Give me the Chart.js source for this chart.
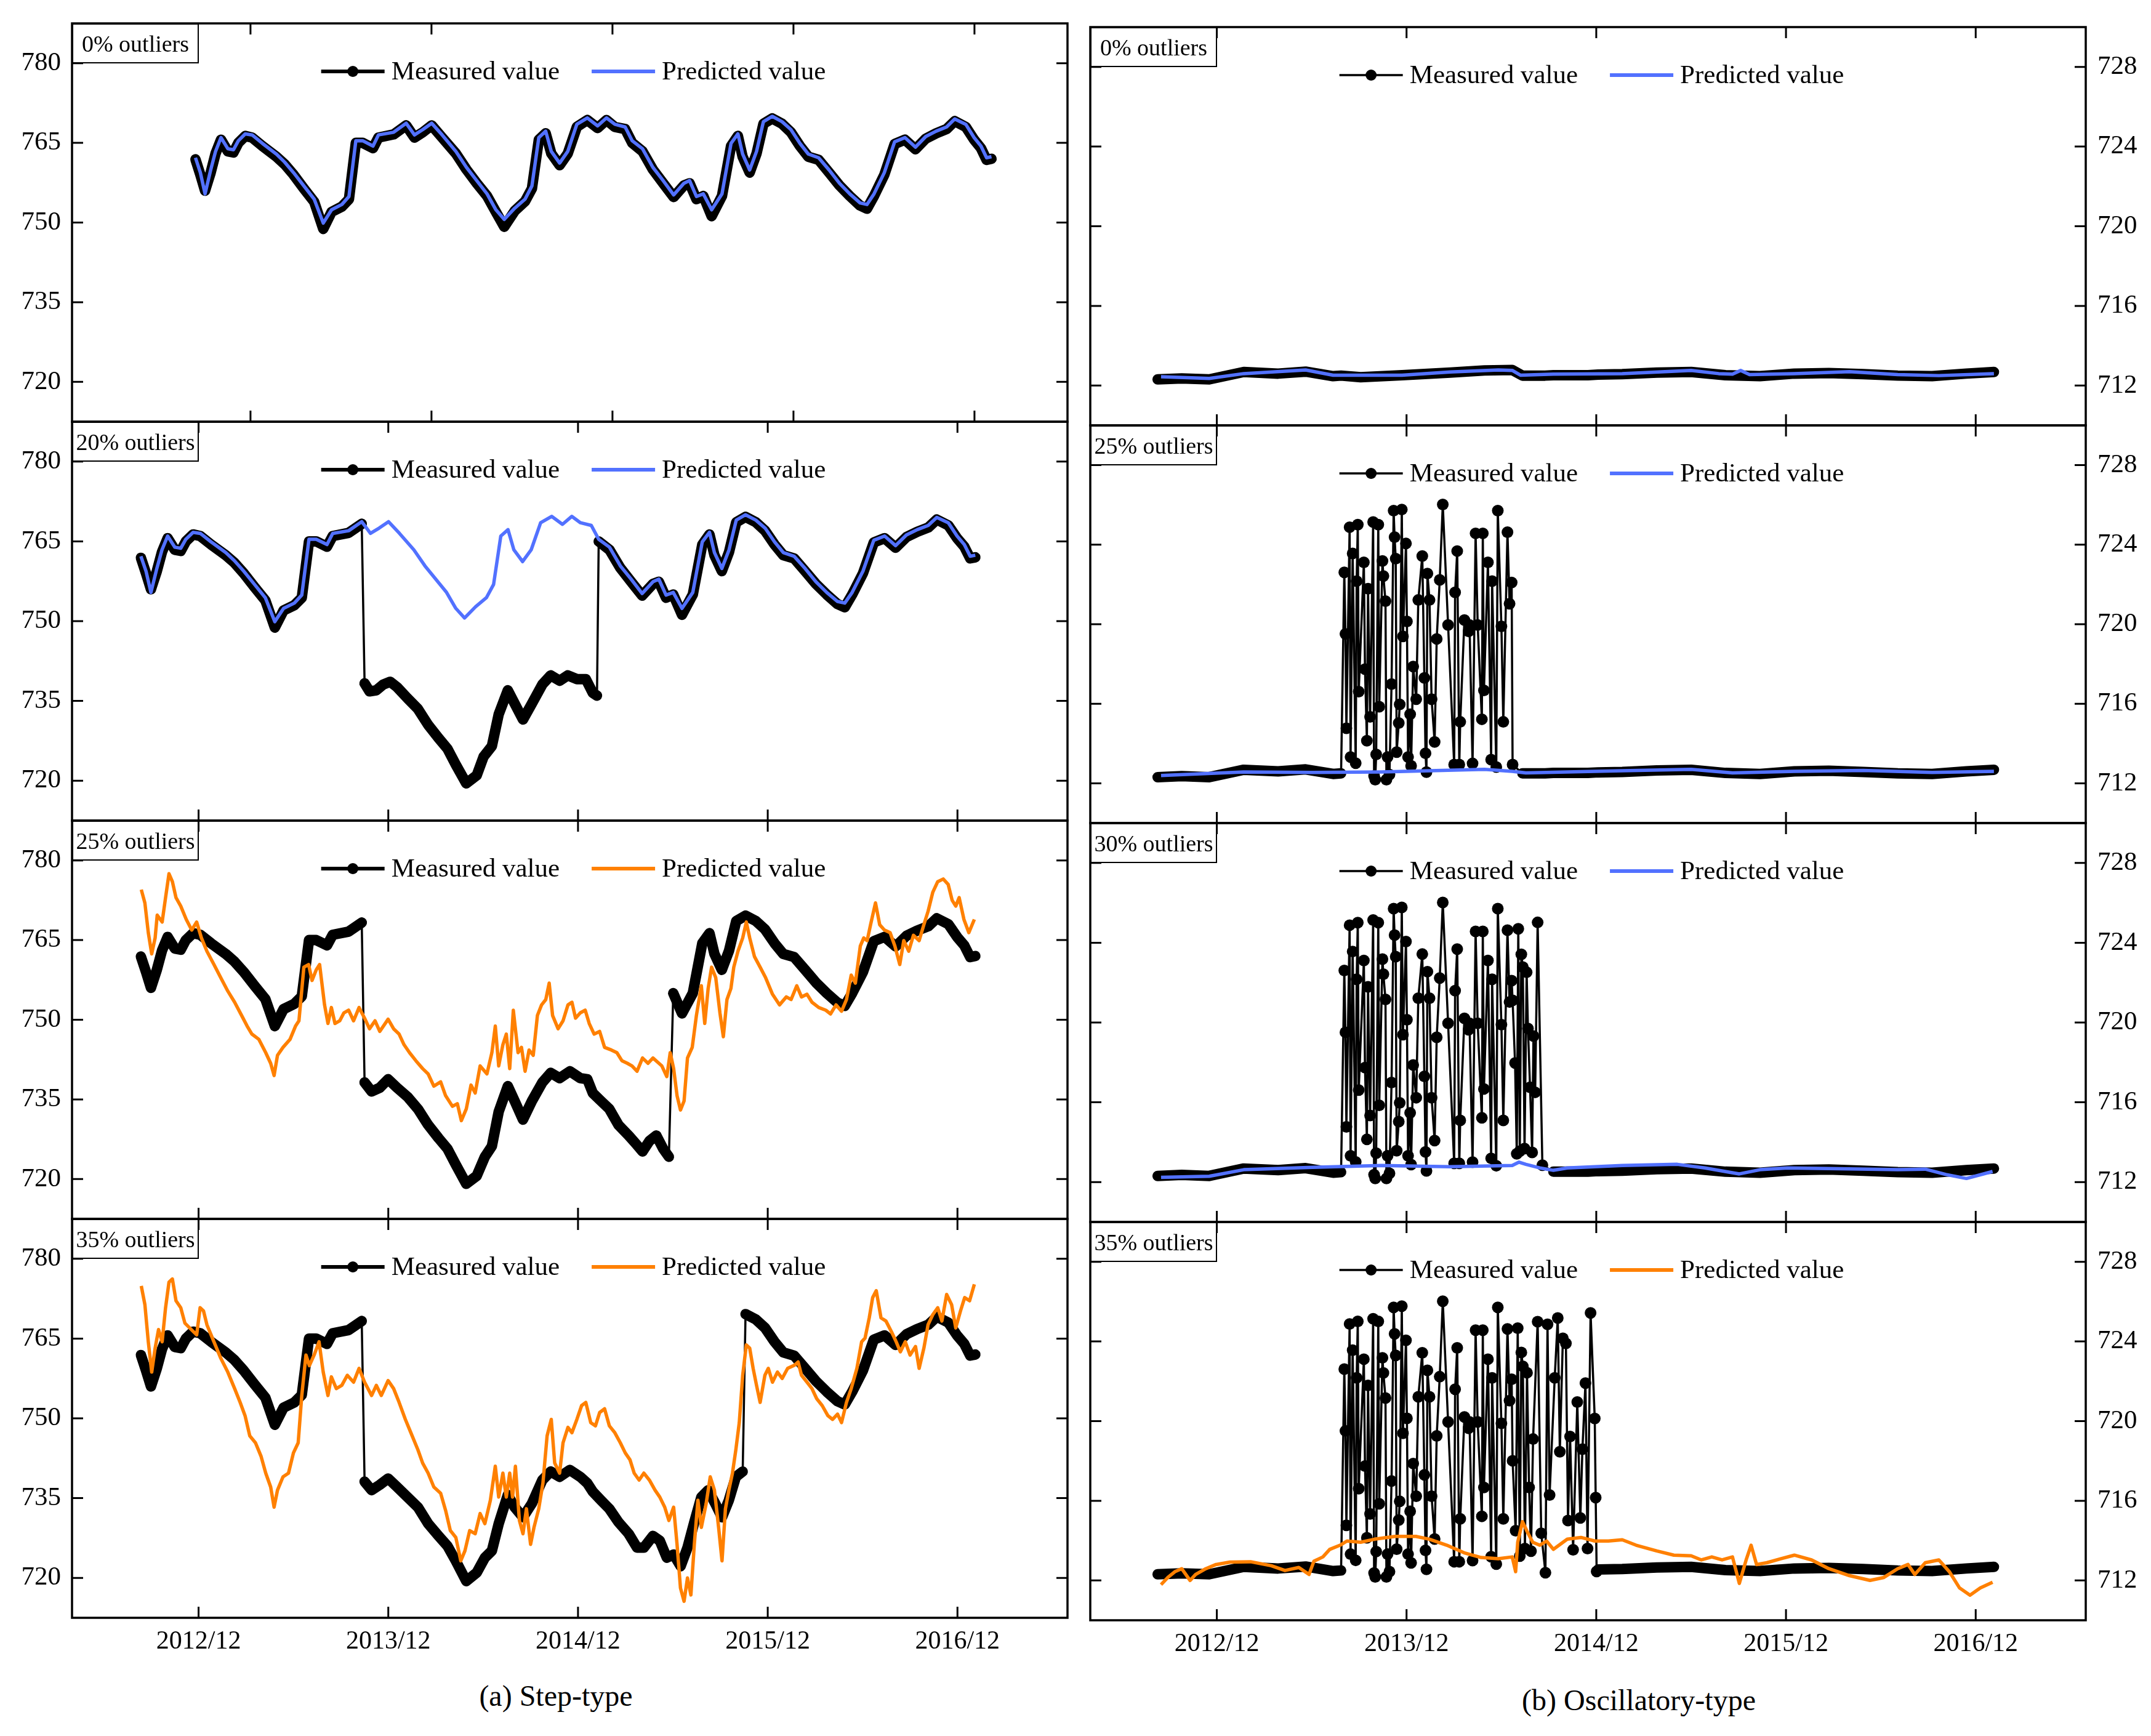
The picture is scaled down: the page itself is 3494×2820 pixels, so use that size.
<!DOCTYPE html>
<html>
<head>
<meta charset="utf-8">
<script src="https://cdn.jsdelivr.net/npm/chart.js@4.4.1/dist/chart.umd.min.js"></script>
<style>
  html, body { margin: 0; padding: 0; background: #fff; }
  body { width: 3494px; height: 2820px; position: relative; overflow: hidden; font-family: 'Liberation Serif', 'Times New Roman', serif; }
  .panel { position: absolute; }
  .tag { position: absolute; box-sizing: border-box; width: 206px; height: 65px; border: 2.5px solid #000;
         font-size: 38px; display: flex; align-items: center; justify-content: center; z-index: 2; }
  .caption { position: absolute; font-size: 48px; line-height: 48px; transform: translateX(-50%); white-space: nowrap; }
</style>
</head>
<body>
<div class="caption" style="left:903px; top:2731px;">(a) Step-type</div>
<div class="caption" style="left:2662px; top:2738px;">(b) Oscillatory-type</div>
<script>
// x values are years counted from 2012/12
const xTickVals = [0, 1, 2, 3, 4];
const xTickLabels = ['2012/12', '2013/12', '2014/12', '2015/12', '2016/12'];
const stepTicks = [720, 735, 750, 765, 780];
const oscTicks = [712, 716, 720, 724, 728];
const seriesNames = ['Measured value', 'Predicted value'];
const tags = [['0% outliers', '20% outliers', '25% outliers', '35% outliers'],
              ['0% outliers', '25% outliers', '30% outliers', '35% outliers']];

// step-type, clean series (measured and predicted nearly coincide)
const stepT = [-0.304,-0.277,-0.251,-0.220,-0.193,-0.163,-0.125,-0.094,-0.067,-0.029,0.009,0.066,0.143,0.188,0.238,0.295,0.352,0.402,0.448,0.505,0.544,0.582,0.620,0.677,0.707,0.791,0.860,0.906,0.952,1.001,1.059,1.135,1.193,1.250,1.307,1.356,1.402,1.460,1.517,1.555,1.593,1.631,1.662,1.708,1.753,1.803,1.861,1.918,1.967,2.013,2.070,2.109,2.166,2.223,2.280,2.338,2.395,2.426,2.464,2.502,2.548,2.605,2.655,2.693,2.719,2.758,2.796,2.834,2.883,2.937,2.986,3.036,3.082,3.139,3.197,3.254,3.311,3.368,3.406,3.445,3.502,3.559,3.616,3.674,3.731,3.788,3.846,3.891,3.952,3.998,4.036,4.067,4.094];
const stepMeasured = [761.9,759.0,756.0,759.4,763.0,765.6,763.4,763.2,765.0,766.3,766.0,764.4,762.4,761.0,759.0,756.4,753.9,748.8,752.0,753.0,754.4,765.0,765.0,764.0,766.0,766.6,768.3,766.0,767.0,768.3,766.0,763.0,760.0,757.4,755.0,752.0,749.2,752.2,754.0,756.4,765.6,766.8,763.0,760.8,763.0,768.0,769.3,767.8,769.3,768.0,767.6,765.0,763.4,760.0,757.4,754.8,757.0,757.4,754.4,755.0,751.2,755.0,764.4,766.3,762.4,759.4,763.0,768.6,769.6,768.6,767.0,764.4,762.4,761.8,759.4,757.0,755.0,753.2,752.6,755.0,759.0,764.8,765.6,763.8,765.8,766.8,767.6,769.1,768.0,765.6,764.0,761.8,762.0];
const stepPredicted = [762.2,759.4,755.4,759.9,763.4,766.0,763.9,763.7,765.4,766.7,766.5,764.9,762.9,761.4,759.4,756.9,754.4,749.9,752.4,753.4,754.9,765.4,765.4,764.4,766.5,767.0,768.7,766.5,767.5,768.7,766.5,763.4,760.4,757.9,755.4,752.4,750.6,752.7,754.4,756.9,766.0,767.2,763.4,761.2,763.4,768.5,769.7,768.2,769.7,768.5,768.0,765.4,763.9,760.4,757.9,755.2,757.4,757.9,754.9,755.4,752.4,755.4,764.9,766.7,762.9,759.9,763.4,769.0,770.0,769.0,767.5,764.9,762.9,762.2,759.9,757.4,755.4,753.7,753.4,755.4,759.4,765.2,766.0,764.2,766.2,767.2,768.0,769.5,768.5,766.0,764.4,762.2,762.4];

// step-type, stretches that dropped by the step outlier
const step20ShiftT = [0.875,0.901,0.937,0.974,1.010,1.046,1.101,1.156,1.210,1.265,1.312,1.356,1.411,1.466,1.502,1.546,1.582,1.630,1.666,1.710,1.757,1.812,1.856,1.903,1.946,1.994,2.041,2.078,2.100];
const step20ShiftV = [738.3,736.8,737.0,738.1,738.6,737.6,735.5,733.5,730.5,728.0,726.0,723.0,719.5,721.0,724.5,726.5,732.5,737.0,734.5,731.5,734.5,738.1,739.8,738.8,739.8,739.1,739.1,736.5,736.0];
const step25ShiftT = [0.875,0.912,0.955,0.999,1.046,1.101,1.156,1.210,1.265,1.312,1.356,1.411,1.466,1.509,1.546,1.582,1.630,1.666,1.710,1.757,1.812,1.856,1.903,1.957,2.012,2.049,2.078,2.121,2.165,2.213,2.267,2.304,2.340,2.377,2.413,2.449,2.479];
const step25ShiftV = [738.2,736.5,737.2,738.8,737.2,735.5,733.2,730.2,727.7,725.7,722.7,719.1,720.6,724.2,726.2,732.7,737.5,734.7,731.2,734.7,738.2,740.0,739.0,740.3,739.0,738.8,736.2,734.7,733.2,730.2,728.2,726.7,725.2,727.2,728.2,725.7,724.2];
const step35ShiftT = [0.875,0.912,0.955,0.999,1.046,1.101,1.156,1.210,1.265,1.312,1.356,1.411,1.466,1.509,1.546,1.582,1.630,1.666,1.710,1.757,1.812,1.856,1.903,1.957,2.012,2.049,2.078,2.121,2.165,2.213,2.267,2.311,2.347,2.395,2.431,2.468,2.504,2.541,2.577,2.613,2.650,2.686,2.723,2.759,2.795,2.832,2.868];
const step35ShiftV = [738.1,736.5,737.5,738.7,737.1,735.2,733.3,730.2,727.9,726.0,723.2,719.4,721.0,723.8,725.1,730.2,735.6,733.3,731.4,734.0,738.4,740.0,739.0,740.3,739.0,737.8,736.2,734.6,733.0,730.5,728.3,725.7,725.7,727.9,727.0,723.8,724.4,722.2,725.7,730.5,735.2,736.5,734.0,731.4,734.6,739.0,740.0];

// step-type predictions with 25% and 35% outliers
const stepPred25T = [-0.302,-0.283,-0.265,-0.247,-0.229,-0.218,-0.192,-0.174,-0.156,-0.138,-0.119,-0.094,-0.065,-0.036,-0.010,0.015,0.044,0.081,0.117,0.154,0.190,0.227,0.256,0.281,0.318,0.354,0.380,0.398,0.416,0.445,0.482,0.511,0.529,0.555,0.580,0.598,0.620,0.638,0.664,0.682,0.700,0.719,0.744,0.766,0.791,0.817,0.846,0.875,0.901,0.930,0.955,0.999,1.028,1.057,1.083,1.112,1.145,1.181,1.210,1.240,1.276,1.302,1.338,1.364,1.385,1.411,1.436,1.458,1.484,1.520,1.546,1.564,1.582,1.604,1.622,1.640,1.659,1.684,1.702,1.721,1.742,1.764,1.786,1.808,1.830,1.848,1.866,1.895,1.921,1.947,1.968,1.987,2.012,2.038,2.059,2.085,2.114,2.140,2.176,2.205,2.231,2.260,2.285,2.311,2.340,2.369,2.395,2.420,2.442,2.468,2.486,2.504,2.522,2.540,2.559,2.577,2.602,2.624,2.650,2.668,2.686,2.704,2.726,2.748,2.766,2.785,2.806,2.821,2.843,2.868,2.887,2.905,2.930,2.960,2.989,3.025,3.062,3.098,3.123,3.153,3.178,3.207,3.233,3.269,3.306,3.331,3.360,3.389,3.415,3.440,3.462,3.488,3.506,3.524,3.542,3.568,3.590,3.615,3.645,3.670,3.696,3.717,3.743,3.768,3.798,3.823,3.845,3.870,3.896,3.925,3.951,3.972,3.991,4.009,4.034,4.060,4.089];
const stepPred25V = [774.5,772.0,766.4,762.4,765.4,769.7,768.4,773.0,777.5,776.0,773.0,771.4,768.9,766.9,768.4,765.4,762.9,760.4,757.9,755.4,753.3,750.8,748.8,747.3,746.3,743.8,741.8,739.5,743.3,744.8,746.3,748.8,749.8,759.9,760.4,757.4,759.4,760.4,752.8,749.3,752.3,749.3,749.8,751.3,751.8,749.8,752.3,750.3,748.3,749.8,747.8,750.1,748.3,747.3,745.3,743.8,742.3,740.8,739.8,737.5,738.3,735.7,733.7,734.2,731.0,733.2,737.7,736.2,741.3,739.8,743.8,748.8,741.3,745.3,747.3,740.8,751.8,743.8,744.8,740.3,744.3,743.3,750.8,752.8,753.8,756.9,750.8,748.3,749.8,752.8,753.3,750.3,751.3,751.8,749.3,747.3,747.8,744.8,744.3,743.8,742.3,741.8,741.3,740.3,742.8,741.8,742.8,742.0,741.3,739.3,743.8,740.8,735.7,733.0,734.7,742.8,744.8,750.8,756.4,749.3,755.9,759.9,757.9,751.3,746.8,753.8,755.9,759.9,762.9,765.4,768.4,765.4,761.9,759.9,757.9,754.8,752.8,754.3,753.8,756.4,754.3,754.8,753.3,752.3,751.8,751.1,752.8,751.6,753.8,758.4,756.9,763.9,765.4,764.9,767.9,772.0,767.9,766.9,766.4,763.9,760.4,764.9,762.9,765.9,764.9,767.9,770.4,774.0,776.0,776.5,775.5,772.5,771.4,773.0,768.9,766.4,768.9];
const stepPred35T = [-0.302,-0.283,-0.265,-0.247,-0.229,-0.211,-0.192,-0.174,-0.156,-0.138,-0.119,-0.094,-0.072,-0.047,-0.010,0.008,0.026,0.044,0.081,0.117,0.154,0.190,0.219,0.245,0.270,0.300,0.329,0.354,0.380,0.398,0.416,0.445,0.474,0.500,0.525,0.544,0.566,0.584,0.609,0.635,0.657,0.682,0.700,0.726,0.755,0.784,0.817,0.846,0.875,0.912,0.937,0.963,0.999,1.028,1.057,1.090,1.119,1.156,1.181,1.210,1.240,1.276,1.302,1.327,1.356,1.382,1.404,1.429,1.458,1.484,1.509,1.538,1.564,1.582,1.604,1.622,1.640,1.655,1.670,1.691,1.710,1.728,1.750,1.768,1.793,1.815,1.837,1.859,1.877,1.903,1.921,1.947,1.968,1.994,2.019,2.041,2.067,2.092,2.114,2.140,2.165,2.194,2.223,2.249,2.274,2.296,2.322,2.347,2.376,2.406,2.431,2.457,2.479,2.504,2.522,2.540,2.559,2.577,2.595,2.613,2.632,2.650,2.675,2.697,2.719,2.741,2.759,2.777,2.795,2.814,2.832,2.850,2.868,2.887,2.905,2.923,2.941,2.960,2.985,3.003,3.025,3.051,3.076,3.105,3.142,3.160,3.178,3.207,3.233,3.258,3.287,3.317,3.342,3.368,3.389,3.415,3.440,3.470,3.495,3.513,3.535,3.553,3.572,3.597,3.623,3.652,3.677,3.699,3.725,3.750,3.779,3.798,3.823,3.845,3.870,3.896,3.918,3.943,3.969,3.991,4.016,4.038,4.064,4.089];
const stepPred35V = [774.9,771.4,764.4,758.7,763.2,766.7,764.4,770.8,775.6,776.2,772.1,770.8,767.9,767.0,765.7,770.8,770.2,767.6,764.4,761.3,758.7,755.6,753.0,750.5,746.7,745.4,742.9,739.7,737.1,733.3,736.5,739.0,739.7,743.5,745.4,754.3,761.9,759.9,761.9,764.4,758.7,754.3,757.8,755.6,756.2,758.1,756.8,759.4,756.8,754.3,756.2,754.3,757.1,755.6,753.0,749.8,747.3,744.1,741.6,739.7,737.1,735.9,732.7,728.9,727.6,723.2,725.1,728.9,728.3,732.1,730.2,734.6,741.0,735.2,739.7,735.2,739.7,735.2,741.0,730.8,728.3,733.0,726.3,729.5,733.0,737.8,746.7,749.8,741.6,739.7,745.4,748.3,747.3,749.8,752.4,753.0,749.2,748.6,751.1,751.8,748.6,747.3,745.4,743.5,742.2,739.7,738.4,739.7,738.4,736.5,735.2,733.3,730.8,733.3,726.3,718.1,715.6,720.0,716.8,726.3,734.6,729.5,733.9,739.0,736.5,729.5,723.2,733.0,736.5,739.7,744.1,749.2,758.1,763.8,763.2,759.4,756.2,753.0,758.1,759.4,756.8,758.7,757.5,759.4,760.0,760.6,758.1,756.8,755.6,753.7,752.4,750.5,749.8,750.8,749.2,753.0,755.6,759.4,764.4,765.1,768.9,772.7,774.0,768.9,768.3,766.3,764.4,762.5,764.4,761.9,763.5,759.4,763.2,767.6,769.5,770.8,768.3,773.3,771.4,767.0,770.2,772.7,772.1,775.2];

// oscillatory-type, clean measured baseline
const oscT = [-0.312,-0.185,-0.040,0.142,0.323,0.468,0.613,0.655,0.758,0.976,1.230,1.411,1.557,1.611,1.730,1.774,1.956,2.010,2.137,2.319,2.500,2.681,2.863,3.044,3.226,3.407,3.589,3.770,3.951,4.096];
const oscMeasured = [712.31,712.36,712.31,712.68,712.60,712.70,712.47,712.50,712.42,712.52,712.65,712.76,712.78,712.50,712.50,712.52,712.52,712.55,712.57,712.65,712.68,712.52,712.47,712.60,712.63,712.57,712.50,712.47,712.60,712.68];

// oscillating outliers shared by the 25/30/35% cases, then the extra ones
const oscOutT = [0.672,0.678,0.683,0.700,0.705,0.716,0.732,0.737,0.743,0.748,0.775,0.781,0.791,0.797,0.808,0.824,0.829,0.835,0.840,0.851,0.856,0.873,0.878,0.889,0.894,0.900,0.910,0.921,0.932,0.937,0.943,0.948,0.959,0.964,0.975,0.981,0.997,1.002,1.008,1.019,1.024,1.035,1.051,1.062,1.083,1.094,1.100,1.105,1.110,1.121,1.132,1.148,1.159,1.175,1.191,1.219,1.251,1.256,1.267,1.278,1.283,1.305,1.327,1.332,1.348,1.364,1.375,1.397,1.402,1.408,1.429,1.446,1.451,1.473,1.481,1.500,1.510,1.532,1.543,1.554];
const oscOutV = [722.61,719.51,714.77,724.88,713.32,723.56,713.01,722.17,725.01,716.61,723.11,717.74,714.14,721.79,715.34,725.14,712.37,712.18,713.45,725.01,715.85,723.18,722.42,721.16,712.18,713.32,712.44,716.99,725.71,724.38,723.30,713.57,715.03,715.97,725.77,719.39,724.06,720.14,713.32,715.47,712.88,717.87,716.23,721.22,723.43,717.30,713.51,712.56,722.55,721.22,716.23,714.08,719.26,722.23,726.02,719.96,712.94,721.60,723.68,712.94,715.09,720.21,719.64,719.96,713.00,724.57,719.96,715.22,724.57,716.67,723.11,713.19,722.17,712.82,725.71,719.89,715.09,724.63,721.03,722.10];
const osc25ExtraT = [1.559];
const osc25ExtraV = [712.94];
const osc30ExtraT = [1.559,1.572,1.581,1.589,1.597,1.605,1.613,1.622,1.633,1.640,1.651,1.662,1.669,1.678,1.691,1.716];
const osc30ExtraV = [721.11,717.97,713.42,724.70,713.55,723.42,722.78,713.68,722.52,719.70,716.75,713.49,719.32,716.50,725.02,712.85];
const osc35ExtraT = [1.559,1.575,1.586,1.597,1.605,1.613,1.624,1.635,1.646,1.656,1.667,1.691,1.710,1.732,1.743,1.754,1.781,1.797,1.808,1.824,1.840,1.851,1.862,1.878,1.900,1.916,1.927,1.943,1.954,1.970,1.992,1.997,2.002];
const osc35ExtraV = [718.01,714.50,724.67,713.22,723.45,722.75,713.60,722.43,716.67,713.47,719.10,724.99,714.37,712.39,724.86,716.29,722.17,725.18,718.46,724.16,723.90,715.01,719.23,713.54,720.96,715.14,718.59,721.91,713.60,725.43,720.13,716.16,712.45];

// oscillatory-type predictions
const oscPred0T = [-0.294,-0.040,0.142,0.468,0.613,0.976,1.230,1.484,1.557,1.600,1.774,2.137,2.500,2.645,2.718,2.761,2.808,3.044,3.335,3.589,3.806,4.096];
const oscPred0V = [712.44,712.36,712.60,712.78,712.52,712.52,712.68,712.78,712.76,712.52,712.57,712.60,712.76,712.60,712.57,712.76,712.55,712.60,712.70,712.55,712.50,712.60];
const oscPred25T = [-0.294,0.142,0.504,0.867,1.411,1.557,1.629,2.137,2.500,2.718,3.044,3.407,3.770,4.096];
const oscPred25V = [712.39,712.57,712.55,712.57,712.70,712.60,712.52,712.63,712.70,712.52,712.60,712.65,712.55,712.60];
const oscPred30T = [-0.294,-0.040,0.142,0.504,0.867,1.230,1.557,1.593,1.629,1.702,1.774,1.847,2.137,2.427,2.573,2.754,2.863,3.008,3.226,3.589,3.734,3.843,3.951,4.089];
const oscPred30V = [712.24,712.29,712.62,712.74,712.83,712.77,712.83,713.00,712.89,712.71,712.59,712.71,712.83,712.89,712.71,712.41,712.62,712.71,712.68,712.62,712.65,712.38,712.18,712.53];
const oscPred35T = [-0.294,-0.258,-0.221,-0.185,-0.141,-0.112,-0.058,-0.004,0.069,0.178,0.287,0.359,0.432,0.486,0.512,0.559,0.595,0.650,0.686,0.758,0.831,0.940,1.049,1.121,1.212,1.303,1.393,1.484,1.557,1.575,1.586,1.611,1.636,1.665,1.702,1.738,1.774,1.847,1.919,1.992,2.064,2.137,2.210,2.319,2.409,2.500,2.554,2.609,2.663,2.718,2.754,2.790,2.816,2.845,2.899,2.972,3.044,3.135,3.226,3.335,3.443,3.516,3.589,3.643,3.679,3.734,3.806,3.861,3.915,3.970,4.024,4.089];
const oscPred35V = [711.79,712.15,712.44,712.59,712.00,712.30,712.59,712.80,712.92,712.94,712.74,712.50,712.65,712.30,712.97,713.18,713.56,713.77,713.98,713.92,714.07,714.21,714.21,714.07,713.77,713.39,713.15,713.09,713.18,712.44,713.92,714.95,714.45,713.92,713.77,713.98,713.56,714.07,714.16,713.98,713.98,714.04,713.77,713.48,713.27,713.24,713.03,713.18,713.03,713.18,711.85,713.03,713.77,712.80,712.89,713.09,713.27,713.03,712.59,712.24,712.00,712.15,712.59,712.80,712.30,712.89,713.03,712.44,711.62,711.26,711.62,711.91];

const BLUE = '#5271FF';
const ORANGE = '#FF8000';
const LEFT_EDGES = [38, 685, 1333, 1980, 2628];
const RIGHT_EDGES = [44, 691, 1337, 1985, 2632];

const pts = (xs, ys) => xs.map((x, i) => ({x: x, y: ys[i]}));

function stepMeasuredWith(shT, shV, resume) {
  const base = pts(stepT, stepMeasured);
  return base.filter(p => p.x < 0.87).concat(pts(shT, shV), base.filter(p => p.x > resume));
}

function oscMeasuredWith(exT, exV, resume) {
  const base = pts(oscT, oscMeasured);
  const head = base.filter(p => p.x < 0.66);
  const out = pts(oscOutT, oscOutV).concat(pts(exT, exV));
  return {data: head.concat(out, base.filter(p => p.x > resume)), s: head.length, e: head.length + out.length - 1};
}

Chart.defaults.font.family = "'Liberation Serif', 'Times New Roman', serif";
Chart.defaults.color = '#000';

// box round the plot plus inward ticks on all four sides
const framePlugin = {
  id: 'frame',
  afterDraw(chart) {
    const {ctx, chartArea: a, scales} = chart;
    const len = 18;
    ctx.save();
    ctx.strokeStyle = '#000';
    ctx.lineWidth = 3;
    ctx.beginPath();
    scales.x.ticks.forEach(tk => {
      const px = scales.x.getPixelForValue(tk.value);
      ctx.moveTo(px, a.bottom); ctx.lineTo(px, a.bottom - len);
      ctx.moveTo(px, a.top); ctx.lineTo(px, a.top + len);
    });
    scales.y.ticks.forEach(tk => {
      const py = scales.y.getPixelForValue(tk.value);
      ctx.moveTo(a.left, py); ctx.lineTo(a.left + len, py);
      ctx.moveTo(a.right, py); ctx.lineTo(a.right - len, py);
    });
    ctx.stroke();
    ctx.lineWidth = 3.5;
    ctx.strokeRect(a.left, a.top, a.right - a.left, a.bottom - a.top);
    ctx.restore();
  }
};

// legend drawn inside the plot box, centred near the top
const legendPlugin = {
  id: 'panelLegend',
  afterDraw(chart, args, o) {
    const {ctx, chartArea: a} = chart;
    const ds = chart.data.datasets;
    const mw = 103, gap = 11, between = 52;
    ctx.save();
    ctx.font = "43px 'Liberation Serif'";
    ctx.textBaseline = 'middle';
    ctx.fillStyle = '#000';
    const w0 = ctx.measureText(ds[0].label).width;
    const w1 = ctx.measureText(ds[1].label).width;
    let x = (a.left + a.right) / 2 - (2 * (mw + gap) + w0 + w1 + between) / 2 + 6;
    const y = a.top + 78;
    ctx.strokeStyle = '#000';
    ctx.lineWidth = o.markLine;
    ctx.beginPath(); ctx.moveTo(x, y); ctx.lineTo(x + mw, y); ctx.stroke();
    ctx.beginPath(); ctx.arc(x + mw / 2, y, 9, 0, Math.PI * 2); ctx.fill();
    ctx.fillText(ds[0].label, x + mw + gap, y + 2);
    x += mw + gap + w0 + between;
    ctx.strokeStyle = ds[1].borderColor;
    ctx.lineWidth = 6;
    ctx.beginPath(); ctx.moveTo(x, y); ctx.lineTo(x + mw, y); ctx.stroke();
    ctx.fillText(ds[1].label, x + mw + gap, y + 2);
    ctx.restore();
  }
};

function addPanel(side, row, measured, predicted, color, xMin, xMax) {
  const left = side === 0;
  const edges = left ? LEFT_EDGES : RIGHT_EDGES;
  const frameTop = edges[row], frameH = edges[row + 1] - edges[row];
  const axisH = row === 3 ? 110 : 20;
  const wrap = document.createElement('div');
  wrap.className = 'panel';
  wrap.style.left = (left ? 0 : 1750) + 'px';
  wrap.style.top = (frameTop - 20) + 'px';
  wrap.style.width = (left ? 1760 : 1744) + 'px';
  wrap.style.height = (20 + frameH + axisH) + 'px';
  const cv = document.createElement('canvas');
  wrap.appendChild(cv);
  document.body.appendChild(wrap);

  const tag = document.createElement('div');
  tag.className = 'tag';
  tag.style.left = (left ? 117 : 1771) + 'px';
  tag.style.top = frameTop + 'px';
  tag.textContent = tags[side][row];
  document.body.appendChild(tag);

  const s = measured.s, e = measured.e;
  const inOut = i => i >= s && i <= e;
  const measuredSet = {
    label: seriesNames[0],
    data: measured.data,
    borderColor: '#000',
    backgroundColor: '#000',
    borderWidth: 17,
    borderCapStyle: 'round',
    borderJoinStyle: 'round',
    pointRadius: c => inOut(c.dataIndex) ? 9.5 : 0,
    pointBackgroundColor: '#000',
    pointBorderWidth: 0,
    tension: 0,
    order: 1,
    segment: {
      borderWidth: c => {
        if (left) return Math.abs(c.p1.parsed.y - c.p0.parsed.y) > 20 ? 3.5 : undefined;
        return (c.p1DataIndex >= s && c.p0DataIndex <= e) ? 3.5 : undefined;
      }
    }
  };
  const predictedSet = {
    label: seriesNames[1],
    data: predicted,
    borderColor: color,
    borderWidth: 5.5,
    borderJoinStyle: 'round',
    pointRadius: 0,
    tension: 0,
    order: 0
  };
  const yTicks = left ? stepTicks : oscTicks;

  new Chart(cv, {
    type: 'line',
    data: {datasets: [measuredSet, predictedSet]},
    options: {
      responsive: true,
      maintainAspectRatio: false,
      devicePixelRatio: 1,
      animation: false,
      events: [],
      layout: {padding: {top: 20, bottom: 0, left: left ? 0 : 21, right: left ? 26 : 0}},
      plugins: {legend: {display: false}, tooltip: {enabled: false}, panelLegend: {markLine: left ? 6 : 3.5}},
      scales: {
        x: {
          type: 'linear',
          min: xMin, max: xMax,
          grid: {display: false, drawTicks: false},
          border: {display: false},
          afterBuildTicks: sc => { sc.ticks = xTickVals.map(v => ({value: v})); },
          afterFit: sc => { sc.height = axisH; sc.paddingLeft = 0; sc.paddingRight = 0; },
          ticks: {
            display: row === 3,
            padding: 14,
            maxRotation: 0,
            autoSkip: false,
            font: {size: 42},
            callback: (v, i) => xTickLabels[i]
          }
        },
        y: {
          type: 'linear',
          position: left ? 'left' : 'right',
          min: left ? 712.5 : 710,
          max: left ? 787.5 : 730,
          grid: {display: false, drawTicks: false},
          border: {display: false},
          afterBuildTicks: sc => { sc.ticks = yTicks.map(v => ({value: v})); },
          afterFit: sc => { sc.width = left ? 117 : 106; sc.paddingTop = 0; sc.paddingBottom = 0; },
          ticks: {padding: left ? 18 : 19, font: {size: 43}, callback: v => String(v)}
        }
      }
    },
    plugins: [framePlugin, legendPlugin]
  });
}

const noOut = {data: pts(stepT, stepMeasured), s: -1, e: -2};
addPanel(0, 0, noOut, pts(stepT, stepPredicted), BLUE, -0.986, 4.514);
addPanel(0, 1, {data: stepMeasuredWith(step20ShiftT, step20ShiftV, 2.105), s: -1, e: -2}, pts(stepT, stepPredicted), BLUE, -0.667, 4.58);
addPanel(0, 2, {data: stepMeasuredWith(step25ShiftT, step25ShiftV, 2.49), s: -1, e: -2}, pts(stepPred25T, stepPred25V), ORANGE, -0.667, 4.58);
addPanel(0, 3, {data: stepMeasuredWith(step35ShiftT, step35ShiftV, 2.875), s: -1, e: -2}, pts(stepPred35T, stepPred35V), ORANGE, -0.667, 4.58);

addPanel(1, 0, {data: pts(oscT, oscMeasured), s: -1, e: -2}, pts(oscPred0T, oscPred0V), BLUE, -0.667, 4.58);
addPanel(1, 1, oscMeasuredWith(osc25ExtraT, osc25ExtraV, 1.58), pts(oscPred25T, oscPred25V), BLUE, -0.667, 4.58);
addPanel(1, 2, oscMeasuredWith(osc30ExtraT, osc30ExtraV, 1.75), pts(oscPred30T, oscPred30V), BLUE, -0.667, 4.58);
addPanel(1, 3, oscMeasuredWith(osc35ExtraT, osc35ExtraV, 2.005), pts(oscPred35T, oscPred35V), ORANGE, -0.667, 4.58);
</script>
</body>
</html>
